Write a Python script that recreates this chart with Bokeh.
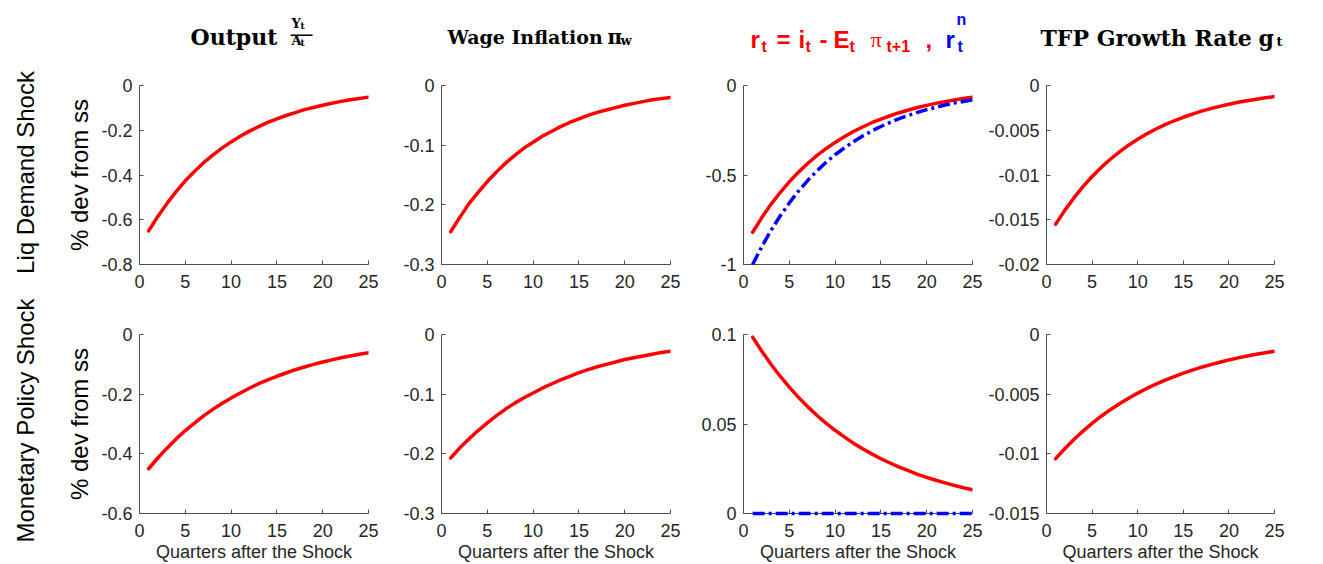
from math import pi
from bokeh.plotting import figure
from bokeh.models import Range1d, Label, FixedTicker
from bokeh.layouts import row, column
from bokeh.embed import file_html
from bokeh.resources import INLINE

# ---------------- data ----------------
quarters = list(range(1, 26))
x_ticks = [0, 5, 10, 15, 20, 25]
x_tick_labels = ["0", "5", "10", "15", "20", "25"]

liq_output = [-0.650, -0.585, -0.527, -0.474, -0.426, -0.384, -0.345, -0.311, -0.280, -0.252,
              -0.227, -0.204, -0.184, -0.165, -0.149, -0.134, -0.121, -0.108, -0.098, -0.088,
              -0.079, -0.071, -0.064, -0.058, -0.052]
liq_wage = [-0.245, -0.221, -0.198, -0.179, -0.161, -0.145, -0.130, -0.117, -0.105, -0.095,
            -0.085, -0.077, -0.069, -0.062, -0.056, -0.050, -0.045, -0.041, -0.037, -0.033,
            -0.030, -0.027, -0.024, -0.022, -0.020]
liq_real_rate = [-0.820, -0.738, -0.664, -0.598, -0.538, -0.484, -0.436, -0.392, -0.353, -0.318,
                 -0.286, -0.257, -0.232, -0.208, -0.188, -0.169, -0.152, -0.137, -0.123, -0.111,
                 -0.100, -0.090, -0.081, -0.073, -0.065]
liq_natural_rate = [-1.000, -0.900, -0.810, -0.729, -0.656, -0.590, -0.531, -0.478, -0.430, -0.387,
                    -0.349, -0.314, -0.282, -0.254, -0.229, -0.206, -0.185, -0.167, -0.150, -0.135,
                    -0.122, -0.109, -0.098, -0.089, -0.080]
liq_tfp = [-0.01550, -0.01395, -0.01256, -0.01130, -0.01017, -0.00915, -0.00824, -0.00741,
           -0.00667, -0.00600, -0.00540, -0.00486, -0.00438, -0.00394, -0.00355, -0.00319,
           -0.00287, -0.00259, -0.00233, -0.00209, -0.00188, -0.00170, -0.00153, -0.00137,
           -0.00124]

mp_output = [-0.450, -0.414, -0.381, -0.350, -0.322, -0.297, -0.273, -0.251, -0.231, -0.213,
             -0.196, -0.180, -0.165, -0.152, -0.140, -0.129, -0.118, -0.109, -0.100, -0.092,
             -0.085, -0.078, -0.072, -0.066, -0.061]
mp_wage = [-0.207, -0.190, -0.175, -0.161, -0.148, -0.136, -0.125, -0.115, -0.106, -0.098,
           -0.090, -0.083, -0.076, -0.070, -0.064, -0.059, -0.054, -0.050, -0.046, -0.042,
           -0.039, -0.036, -0.033, -0.030, -0.028]
mp_real_rate = [0.0985, 0.0906, 0.0834, 0.0767, 0.0706, 0.0649, 0.0597, 0.0549, 0.0505, 0.0465,
                0.0428, 0.0393, 0.0362, 0.0333, 0.0306, 0.0282, 0.0259, 0.0239, 0.0219, 0.0202,
                0.0186, 0.0171, 0.0157, 0.0144, 0.0133]
mp_natural_rate = [0.0, 0.0, 0.0, 0.0, 0.0, 0.0, 0.0, 0.0, 0.0, 0.0, 0.0, 0.0, 0.0, 0.0, 0.0,
                   0.0, 0.0, 0.0, 0.0, 0.0, 0.0, 0.0, 0.0, 0.0, 0.0]
mp_tfp = [-0.01040, -0.00957, -0.00880, -0.00810, -0.00745, -0.00685, -0.00630, -0.00580,
          -0.00534, -0.00491, -0.00452, -0.00416, -0.00382, -0.00352, -0.00323, -0.00298,
          -0.00274, -0.00252, -0.00232, -0.00213, -0.00196, -0.00180, -0.00166, -0.00153,
          -0.00140]

y_ticks_liq_output = [-0.8, -0.6, -0.4, -0.2, 0]
y_labels_liq_output = ["-0.8", "-0.6", "-0.4", "-0.2", "0"]
y_ticks_liq_wage = [-0.3, -0.2, -0.1, 0]
y_labels_liq_wage = ["-0.3", "-0.2", "-0.1", "0"]
y_ticks_liq_rate = [-1, -0.5, 0]
y_labels_liq_rate = ["-1", "-0.5", "0"]
y_ticks_liq_tfp = [-0.02, -0.015, -0.01, -0.005, 0]
y_labels_liq_tfp = ["-0.02", "-0.015", "-0.01", "-0.005", "0"]
y_ticks_mp_output = [-0.6, -0.4, -0.2, 0]
y_labels_mp_output = ["-0.6", "-0.4", "-0.2", "0"]
y_ticks_mp_wage = [-0.3, -0.2, -0.1, 0]
y_labels_mp_wage = ["-0.3", "-0.2", "-0.1", "0"]
y_ticks_mp_rate = [0, 0.05, 0.1]
y_labels_mp_rate = ["0", "0.05", "0.1"]
y_ticks_mp_tfp = [-0.015, -0.01, -0.005, 0]
y_labels_mp_tfp = ["-0.015", "-0.01", "-0.005", "0"]

row_labels = ["Liq Demand Shock", "Monetary Policy Shock"]
y_axis_label = "% dev from ss"
x_axis_label = "Quarters after the Shock"

# ---------------- layout constants (page pixels) ----------------
RED = "#ff0000"
BLUE = "#0000ff"
AXIS_COL = "#4d4d4d"
TEXT_COL = "#262626"
SANS = "Liberation Sans"
SERIF = "DejaVu Serif"
SERIF2 = "Liberation Serif"
DASHDOT = "12 4 3 4"
LW = 3.5

LAB_W = 48
TITLE_H = 66
PAGE_H = 564
TITLE_SHIFT = 9   # rendered label text sits lower than its nominal baseline

# columns: (fig width, min_border_left, min_border_right)
cols = [(352, 91, 32), (298, 41, 28), (287, 45, 13), (321, 60, 32)]
# rows: (fig height, top, bottom) -> frames at y 85..264 and 334..514
rows_geom = [(245, 19, 47), (253, 23, 50)]


def make_panel(ci, ri, y_range, yt, yl):
    w, ml, mr = cols[ci]
    h, mt, mb = rows_geom[ri]
    p = figure(width=w, height=h, x_range=Range1d(0, 25), y_range=Range1d(*y_range),
               output_backend="svg", toolbar_location=None,
               min_border_left=ml, min_border_right=mr, min_border_top=mt, min_border_bottom=mb)
    p.xgrid.visible = False
    p.ygrid.visible = False
    p.outline_line_color = None
    p.background_fill_color = "white"
    p.border_fill_color = "white"
    p.xaxis.ticker = FixedTicker(ticks=x_ticks)
    p.xaxis.major_label_overrides = {t: s for t, s in zip(x_ticks, x_tick_labels)}
    p.yaxis.ticker = FixedTicker(ticks=yt)
    p.yaxis.major_label_overrides = {t: s for t, s in zip(yt, yl)}
    for ax in (p.xaxis[0], p.yaxis[0]):
        ax.axis_line_color = AXIS_COL
        ax.axis_line_width = 1
        ax.major_tick_line_color = AXIS_COL
        ax.major_tick_in = 4
        ax.major_tick_out = 0
        ax.minor_tick_line_color = None
        ax.major_label_text_font = SANS
        ax.major_label_text_font_size = "18px"
        ax.major_label_text_color = TEXT_COL
    p.xaxis.major_label_standoff = 10
    p.yaxis.major_label_standoff = 7
    if ci == 0:
        p.yaxis.axis_label = y_axis_label
        p.yaxis.axis_label_text_font = SANS
        p.yaxis.axis_label_text_font_size = "24px"
        p.yaxis.axis_label_text_font_style = "normal"
        p.yaxis.axis_label_text_color = "black"
        p.yaxis.axis_label_standoff = 5
    if ri == 1:
        p.xaxis.axis_label = x_axis_label
        p.xaxis.axis_label_text_font = SANS
        p.xaxis.axis_label_text_font_size = "18px"
        p.xaxis.axis_label_text_font_style = "normal"
        p.xaxis.axis_label_text_color = TEXT_COL
        p.xaxis.axis_label_standoff = 2
    return p


def red_line(p, y):
    p.line(quarters, y, line_color=RED, line_width=LW, line_join="round", line_cap="round")


def blue_line(p, y):
    p.line(quarters, y, line_color=BLUE, line_width=LW, line_dash=DASHDOT, level="overlay")


p11 = make_panel(0, 0, (-0.8, 0), y_ticks_liq_output, y_labels_liq_output)
red_line(p11, liq_output)
p12 = make_panel(1, 0, (-0.3, 0), y_ticks_liq_wage, y_labels_liq_wage)
red_line(p12, liq_wage)
p13 = make_panel(2, 0, (-1, 0), y_ticks_liq_rate, y_labels_liq_rate)
blue_line(p13, liq_natural_rate)
red_line(p13, liq_real_rate)
p14 = make_panel(3, 0, (-0.02, 0), y_ticks_liq_tfp, y_labels_liq_tfp)
red_line(p14, liq_tfp)

p21 = make_panel(0, 1, (-0.6, 0), y_ticks_mp_output, y_labels_mp_output)
red_line(p21, mp_output)
p22 = make_panel(1, 1, (-0.3, 0), y_ticks_mp_wage, y_labels_mp_wage)
red_line(p22, mp_wage)
p23 = make_panel(2, 1, (0, 0.1), y_ticks_mp_rate, y_labels_mp_rate)
blue_line(p23, mp_natural_rate)
red_line(p23, mp_real_rate)
p24 = make_panel(3, 1, (-0.015, 0), y_ticks_mp_tfp, y_labels_mp_tfp)
red_line(p24, mp_tfp)


def blank_fig(w, h):
    f = figure(width=w, height=h, x_range=Range1d(0, 1), y_range=Range1d(0, 1),
               output_backend="svg", toolbar_location=None, min_border=0,
               x_axis_location=None, y_axis_location=None)
    f.grid.visible = False
    f.outline_line_color = None
    return f


# ---------------- titles (own strip above the panels) ----------------
title_fig = blank_fig(1306 - LAB_W, TITLE_H)
B = "bold"
N = "normal"
title_pieces = [
    ("Output", 190, 45, SERIF, "22px", B, "black"),
    ("Y", 291, 32, SERIF, "13px", B, "black"),
    ("t", 300, 34, SERIF, "9px", B, "black"),
    ("\u2014", 289, 42, SERIF, "24px", N, "black"),
    ("A", 291, 49, SERIF, "13px", B, "black"),
    ("t", 300, 51, SERIF, "9px", B, "black"),
    ("Wage Inflation", 447, 45, SERIF, "19px", B, "black"),
    ("\u03c0", 607, 45, SERIF, "20px", B, "black"),
    ("w", 620, 49, SERIF, "13px", B, "black"),
    ("r", 750, 48, SANS, "24px", B, RED),
    ("t", 761, 55, SANS, "16px", B, RED),
    ("=", 776, 48, SANS, "24px", B, RED),
    ("i", 798, 48, SANS, "24px", B, RED),
    ("t", 805, 55, SANS, "16px", B, RED),
    ("-", 819, 48, SANS, "24px", B, RED),
    ("E", 833, 48, SANS, "24px", B, RED),
    ("t", 849, 55, SANS, "16px", B, RED),
    ("\u03c0", 870, 48, SERIF2, "22px", N, RED),
    ("t+1", 886, 55, SANS, "16px", B, RED),
    (",", 925, 48, SANS, "24px", B, RED),
    ("r", 945, 48, SANS, "24px", B, BLUE),
    ("n", 956, 28, SANS, "16px", B, BLUE),
    ("t", 957, 55, SANS, "16px", B, BLUE),
    ("TFP Growth Rate", 1040, 46, SERIF, "22px", B, "black"),
    ("g", 1258, 46, SERIF, "22px", B, "black"),
    ("t", 1276, 50, SERIF, "13px", B, "black"),
]
for (txt, px, py, font, size, style, color) in title_pieces:
    title_fig.add_layout(Label(x=px - LAB_W, y=TITLE_H - (py - TITLE_SHIFT),
                               x_units="screen", y_units="screen",
                               text=txt, text_font=font, text_font_size=size,
                               text_font_style=style, text_color=color,
                               text_align="left", text_baseline="alphabetic"))

# ---------------- row labels ----------------
lab = blank_fig(LAB_W, PAGE_H)
for txt, cy in zip(row_labels, [172, 420]):
    lab.add_layout(Label(x=25, y=PAGE_H - cy, x_units="screen", y_units="screen", text=txt,
                         angle=pi / 2, text_font=SANS, text_font_size="24px", text_color="black",
                         text_align="center", text_baseline="middle"))

layout = row(lab, column(title_fig, row(p11, p12, p13, p14), row(p21, p22, p23, p24)))

with open("out.html", "w") as f:
    f.write(file_html(layout, INLINE))
